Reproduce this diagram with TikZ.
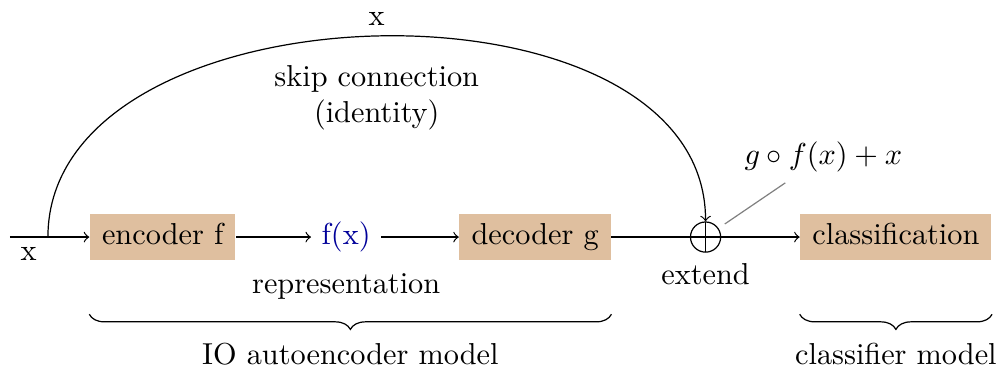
\documentclass[tikz,border=0pt]{standalone}
\usetikzlibrary{positioning,decorations.pathreplacing,arrows}

\begin{document}
\begin{tikzpicture}[
     % define styles
     block/.style={
         fill=brown!50,
         inner xsep=4pt,
         minimum height=0.5cm,
         text height=1.6ex,
         text depth=0.4ex
     },
     sum/.style={
         draw, circle,
         minimum size=0.35cm,
         inner sep=0pt,
         path picture={
             \draw (path picture bounding box.north) -- (path picture bounding box.south)
                   (path picture bounding box.west) -- (path picture bounding box.east);
         }
     },
     curly/.style={
         decorate,
         decoration={brace, mirror, amplitude=5pt}
     },
     node distance=0.91cm,
     >=to
]
\useasboundingbox (-0.116,-1.51) rectangle (11.52,2.75);

% input and skip start
\coordinate (in) at (0,0);
\coordinate[right=0.44cm of in] (skip);
\node[below right=0pt and 0pt of in] (xin) {x};

% autoencoder chain
\node[block, right=0.92cm of in] (enc) {encoder f};
\node[right=0.87cm of enc, text=blue!60!black, label=below:representation] (fx) {f(x)};
\node[block, right=0.9cm of fx] (dec) {decoder g};

% extension and classifier
\node[sum, right=of dec] (plus) {};
\node[below=0pt of plus] (ext) {extend};
\node[block, right=of plus] (cls) {classification};
\node[above right=0.5cm and 0.2cm of plus] (gfx) {$g\circ f(x)+x$};

% connections
\draw[->] (in) -- (enc);
\draw[->] (enc) -- (fx);
\draw[->] (fx) -- (dec);
\draw (dec) -- (plus);
\draw[->] (plus) -- (cls);
\draw[->] (skip) to[out=90,in=90]
     node[above] {x}
     node[below=6pt, align=center] {skip connection\\(identity)} (plus.north);
\draw[gray, shorten <=2.5pt] (plus) -- (gfx);

% braces
\draw[curly] ([yshift=-0.62cm]enc.south west) -- node[below=6pt] (iomodel) {IO autoencoder model} ([yshift=-0.62cm]dec.south east);
\draw[curly] ([yshift=-0.62cm]cls.south west) -- node[below=6pt] (clsmodel) {classifier model} ([yshift=-0.62cm]cls.south east);
\end{tikzpicture}
\end{document}
